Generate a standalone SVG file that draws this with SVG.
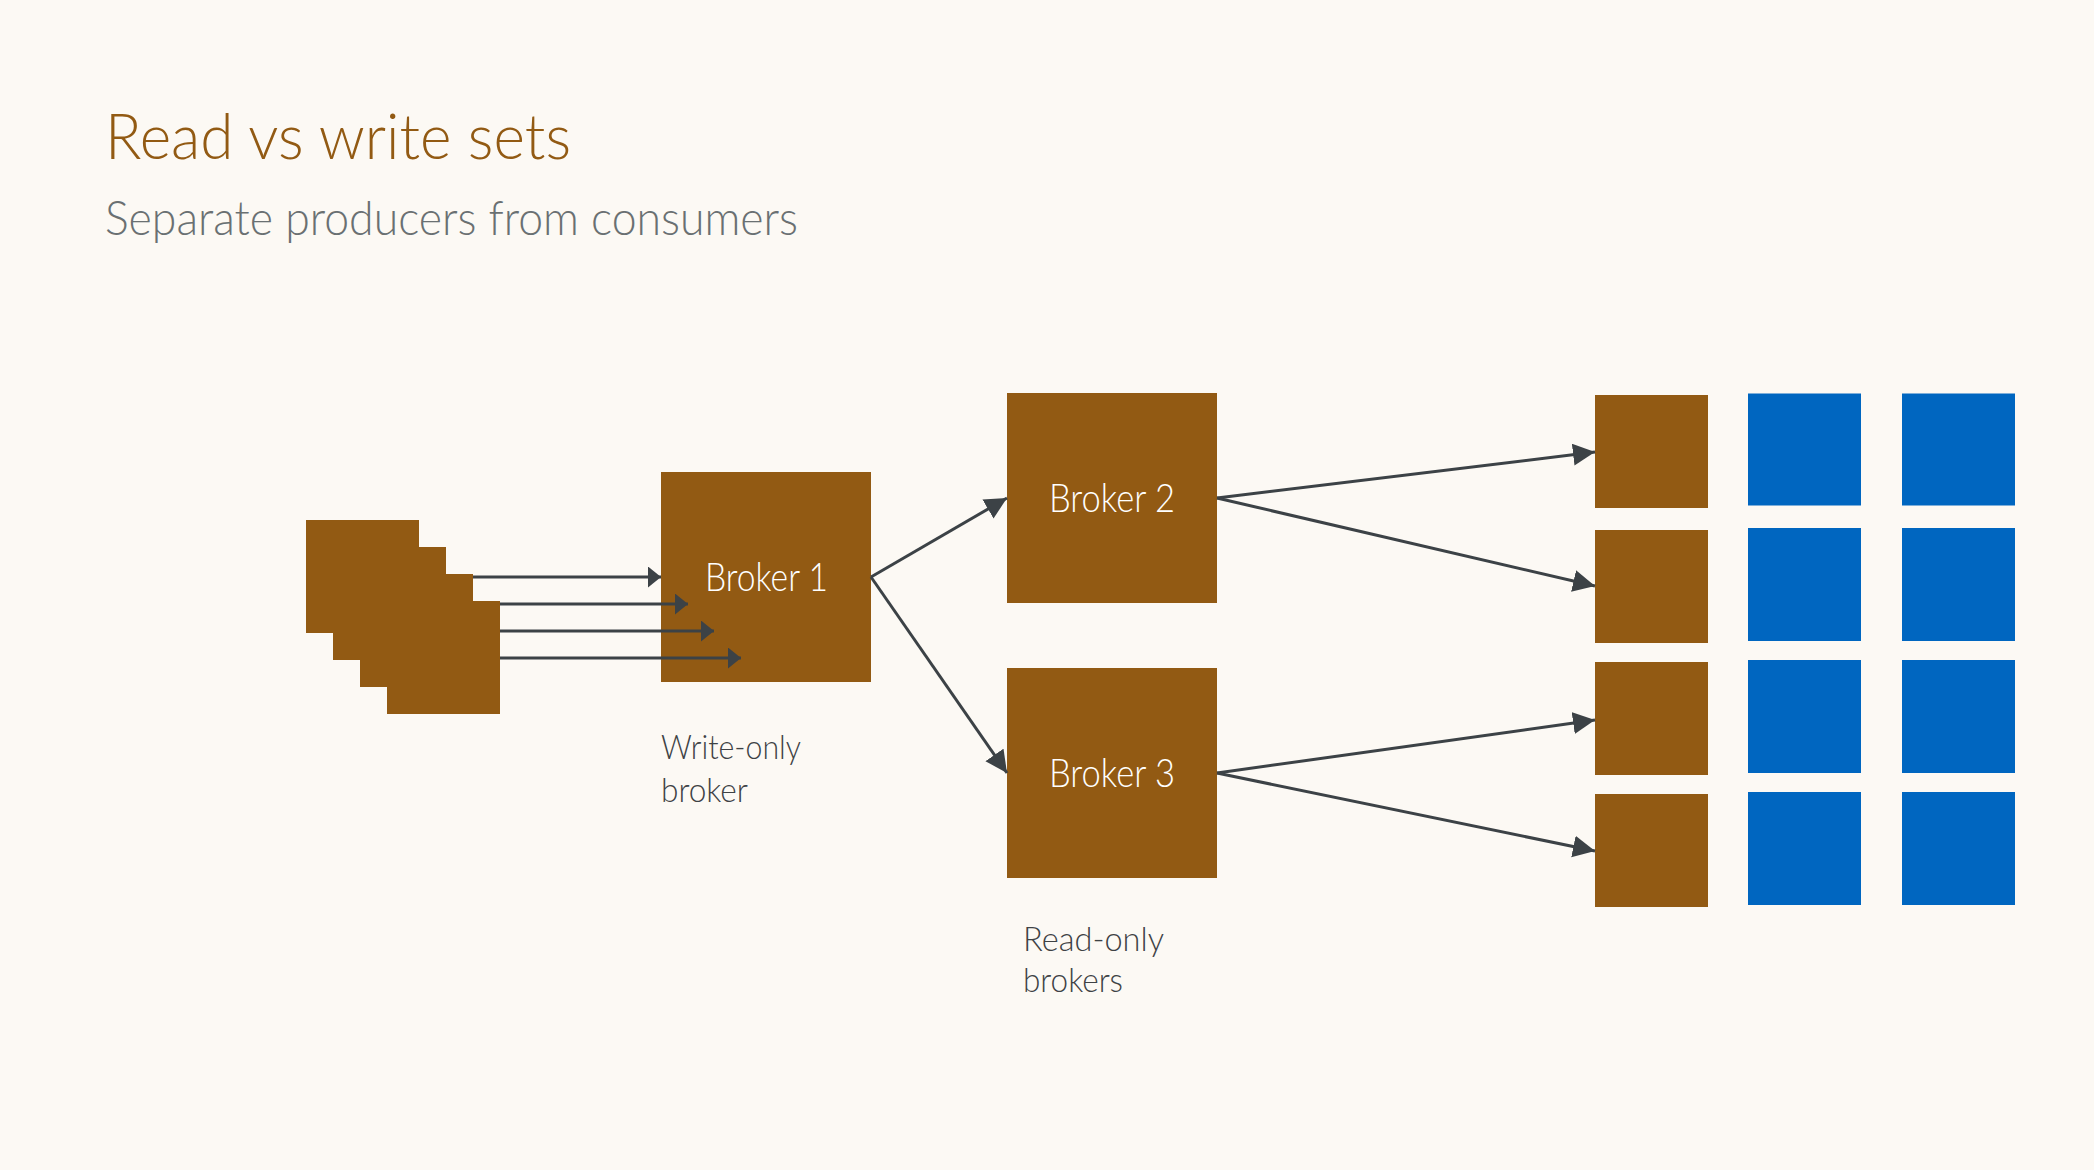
<svg xmlns="http://www.w3.org/2000/svg" width="2094" height="1170" viewBox="0 0 2094 1170">
  <defs>
    <style>
      .bg { fill: #FCF9F4; }
      .brown { fill: #925A13; }
      .blue { fill: #0066C0; }
      .conn { stroke: #3C4246; stroke-width: 3; fill: none; }
      .title { font-family: Lato, "Open Sans", sans-serif; font-weight: 300; font-size: 64px; fill: #925A13; }
      .subtitle { font-family: Lato, "Open Sans", sans-serif; font-weight: 300; font-size: 48px; fill: #6A7072; }
      .blabel { font-family: Lato, "Open Sans", sans-serif; font-weight: 300; font-size: 39px; fill: #FFFFFF; text-anchor: middle; }
      .note { font-family: Lato, "Open Sans", sans-serif; font-weight: 300; font-size: 34px; fill: #3E4245; }
    </style>
    <marker id="headS" markerUnits="userSpaceOnUse" markerWidth="14" markerHeight="22" refX="13" refY="10.5" orient="auto" viewBox="0 0 14 22">
      <path d="M0,0 L13,10.5 L0,21 Z" fill="#3C4246"/>
    </marker>
    <marker id="headL" markerUnits="userSpaceOnUse" markerWidth="23" markerHeight="23" refX="22" refY="11" orient="auto" viewBox="0 0 23 23">
      <path d="M0,0 L22,11 L0,22 Z" fill="#3C4246"/>
    </marker>
  </defs>

  <rect class="bg" x="0" y="0" width="2094" height="1170"/>

  <g id="title">
    <text class="title" x="105" y="159" textLength="466" lengthAdjust="spacingAndGlyphs">Read vs write sets</text>
    <text class="subtitle" x="105" y="235" textLength="693" lengthAdjust="spacingAndGlyphs">Separate producers from consumers</text>
  </g>

  <g id="producers">
    <rect class="brown" x="306" y="520" width="113" height="113"/>
    <rect class="brown" x="333" y="547" width="113" height="113"/>
    <rect class="brown" x="360" y="574" width="113" height="113"/>
    <rect class="brown" x="387" y="601" width="113" height="113"/>
  </g>

  <g id="broker1">
    <rect class="brown" x="661" y="472" width="210" height="210"/>
    <text class="blabel" x="766.5" y="591" textLength="123" lengthAdjust="spacingAndGlyphs">Broker 1</text>
  </g>

  <g id="broker2">
    <rect class="brown" x="1007" y="393" width="210" height="210"/>
    <text class="blabel" x="1112" y="512" textLength="126" lengthAdjust="spacingAndGlyphs">Broker 2</text>
  </g>

  <g id="broker3">
    <rect class="brown" x="1007" y="668" width="210" height="210"/>
    <text class="blabel" x="1112" y="787" textLength="126" lengthAdjust="spacingAndGlyphs">Broker 3</text>
  </g>

  <g id="label-write">
    <text class="note" x="661" y="759" textLength="140" lengthAdjust="spacingAndGlyphs">Write-only</text>
    <text class="note" x="661" y="802" textLength="87" lengthAdjust="spacingAndGlyphs">broker</text>
  </g>

  <g id="label-read">
    <text class="note" x="1023" y="951" textLength="141" lengthAdjust="spacingAndGlyphs">Read-only</text>
    <text class="note" x="1023" y="992" textLength="100" lengthAdjust="spacingAndGlyphs">brokers</text>
  </g>

  <g id="consumers-brown">
    <rect class="brown" x="1595" y="395" width="113" height="113"/>
    <rect class="brown" x="1595" y="530" width="113" height="113"/>
    <rect class="brown" x="1595" y="662" width="113" height="113"/>
    <rect class="brown" x="1595" y="794" width="113" height="113"/>
  </g>

  <g id="consumers-blue">
    <rect class="blue" x="1748" y="393.5" width="113" height="112"/>
    <rect class="blue" x="1748" y="528" width="113" height="113"/>
    <rect class="blue" x="1748" y="660" width="113" height="113"/>
    <rect class="blue" x="1748" y="792" width="113" height="113"/>
    <rect class="blue" x="1902" y="393.5" width="113" height="112"/>
    <rect class="blue" x="1902" y="528" width="113" height="113"/>
    <rect class="blue" x="1902" y="660" width="113" height="113"/>
    <rect class="blue" x="1902" y="792" width="113" height="113"/>
  </g>

  <g id="connectors">
    <line class="conn" x1="473" y1="577" x2="661" y2="577" marker-end="url(#headS)"/>
    <line class="conn" x1="500" y1="604" x2="688" y2="604" marker-end="url(#headS)"/>
    <line class="conn" x1="500" y1="631" x2="714" y2="631" marker-end="url(#headS)"/>
    <line class="conn" x1="500" y1="658" x2="741" y2="658" marker-end="url(#headS)"/>
    <line class="conn" x1="871" y1="577" x2="1007" y2="498" marker-end="url(#headL)"/>
    <line class="conn" x1="871" y1="577" x2="1007" y2="773" marker-end="url(#headL)"/>
    <line class="conn" x1="1217" y1="498" x2="1595" y2="452" marker-end="url(#headL)"/>
    <line class="conn" x1="1217" y1="498" x2="1595" y2="586" marker-end="url(#headL)"/>
    <line class="conn" x1="1217" y1="773" x2="1595" y2="720" marker-end="url(#headL)"/>
    <line class="conn" x1="1217" y1="773" x2="1595" y2="851" marker-end="url(#headL)"/>
  </g>
</svg>
